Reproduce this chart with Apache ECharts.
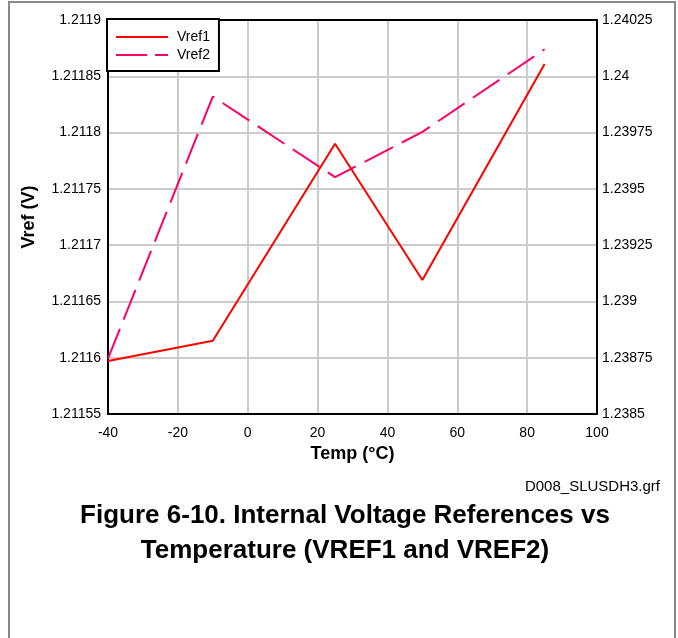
<!DOCTYPE html>
<html>
<head>
<meta charset="utf-8">
<script src="https://cdn.jsdelivr.net/npm/echarts@6/dist/echarts.min.js"></script>
<style>
  html, body { margin: 0; padding: 0; background: #fff; }
  #chart { width: 678px; height: 638px; }
</style>
</head>
<body>
<div id="chart"></div>
<script>
const temps = [-40, -10, 25, 50, 85]
const vref1 = [1.211597, 1.211615, 1.21179, 1.211669, 1.211861]
const vref2 = [1.238746, 1.23991, 1.239552, 1.239753, 1.24012]

const fmt = (v) => String(+v.toFixed(5))

const chart = echarts.init(document.getElementById('chart'))

const axisFont = { color: '#000', fontSize: 14, fontFamily: 'Liberation Sans' }
const frameLine = { show: true, onZero: false, lineStyle: { color: '#000', width: 2 } }
const nameFont = { color: '#000', fontSize: 18, fontWeight: 'bold', fontFamily: 'Liberation Sans' }

const option = {
  animation: false,
  backgroundColor: '#fff',
  title: [
    {
      text: 'Figure 6-10. Internal Voltage References vs\nTemperature (VREF1 and VREF2)',
      left: 340,
      top: 493,
      textAlign: 'center',
      textStyle: {
        fontFamily: 'Liberation Sans',
        fontWeight: 'bold',
        fontSize: 26,
        lineHeight: 35,
        color: '#000'
      }
    },
    {
      text: 'D008_SLUSDH3.grf',
      right: 13,
      top: 474,
      textStyle: { fontFamily: 'Liberation Sans', fontWeight: 'normal', fontSize: 15, color: '#000' }
    }
  ],
  graphic: [
    {
      type: 'polyline',
      shape: { points: [[9, 640], [9, 2], [675, 2], [675, 640]] },
      style: { stroke: '#888', lineWidth: 2, fill: null }
    }
  ],
  legend: {
    left: 107,
    top: 19,
    orient: 'vertical',
    backgroundColor: '#fff',
    borderColor: '#000',
    borderWidth: 2,
    borderRadius: 0,
    padding: [11, 9, 9, 9],
    itemGap: 4,
    itemWidth: 52,
    itemHeight: 2,
    textStyle: { ...axisFont, padding: [0, 0, 0, 4] },
    data: [
      { name: 'Vref1', icon: 'path://M0,0H52V2H0Z' },
      { name: 'Vref2', icon: 'path://M0,0H31V2H0Z M39,0H52V2H39Z' }
    ],
    z: 10
  },
  grid: {
    left: 108,
    right: 81,
    top: 20,
    bottom: 224
  },
  xAxis: [
    {
      type: 'value',
      min: -40,
      max: 100,
      interval: 20,
      name: 'Temp (°C)',
      nameLocation: 'middle',
      nameGap: 30,
      nameTextStyle: nameFont,
      axisLine: frameLine,
      axisTick: { show: false },
      axisLabel: { ...axisFont, margin: 12 },
      splitLine: { lineStyle: { color: '#cccccc', width: 2 } }
    },
    {
      type: 'value',
      position: 'top',
      min: -40,
      max: 100,
      interval: 20,
      axisLine: frameLine,
      axisTick: { show: false },
      axisLabel: { show: false },
      splitLine: { show: false }
    }
  ],
  yAxis: [
    {
      type: 'value',
      min: 1.21155,
      max: 1.2119,
      interval: 0.00005,
      name: 'Vref (V)',
      nameLocation: 'middle',
      nameGap: 70,
      nameTextStyle: nameFont,
      axisLine: frameLine,
      axisTick: { show: false },
      axisLabel: { ...axisFont, margin: 7, formatter: fmt },
      splitLine: { lineStyle: { color: '#cccccc', width: 2 } }
    },
    {
      type: 'value',
      position: 'right',
      min: 1.2385,
      max: 1.24025,
      interval: 0.00025,
      axisLine: frameLine,
      axisTick: { show: false },
      axisLabel: { ...axisFont, margin: 5, formatter: fmt },
      splitLine: { show: false }
    }
  ],
  series: [
    {
      name: 'Vref1',
      type: 'line',
      yAxisIndex: 0,
      data: temps.map((t, i) => [t, vref1[i]]),
      symbol: 'none',
      lineStyle: { color: '#ff0000', width: 2 },
      itemStyle: { color: '#ff0000' },
      z: 3
    },
    {
      name: 'Vref2',
      type: 'line',
      yAxisIndex: 1,
      data: temps.map((t, i) => [t, vref2[i]]),
      symbol: 'none',
      lineStyle: { color: '#ff0066', width: 2, type: [32, 10] },
      itemStyle: { color: '#ff0066' },
      z: 2
    }
  ]
}

chart.setOption(option)
window.addEventListener('resize', () => chart.resize())
</script>
</body>
</html>
